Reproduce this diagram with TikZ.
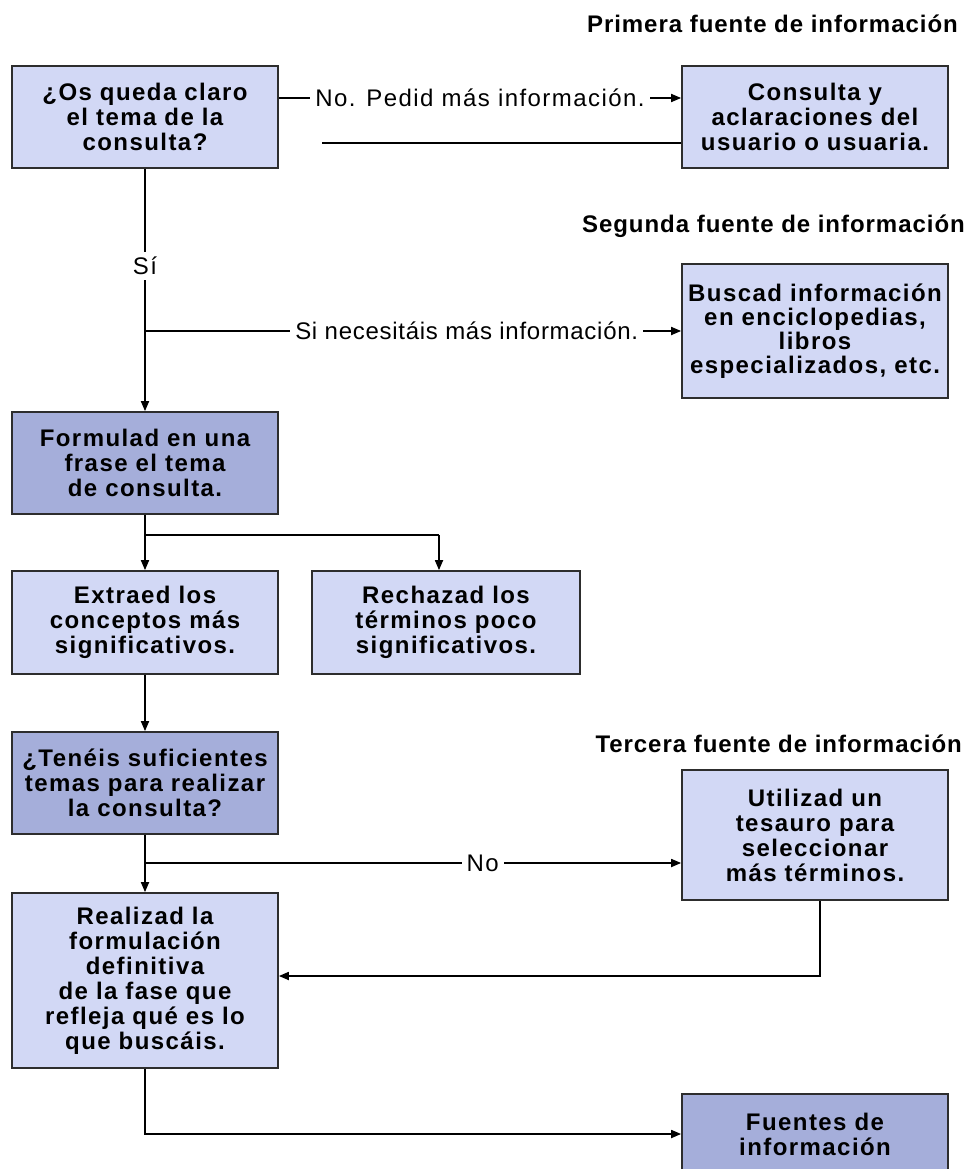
\documentclass[tikz,border=0pt]{standalone}
\usepackage{fontspec}
\setmainfont{Liberation Sans}[LetterSpace=6]
\usetikzlibrary{arrows.meta}
\definecolor{lightbox}{RGB}{210,216,245}
\definecolor{darkfill}{RGB}{165,174,218}
\definecolor{edge}{RGB}{45,45,45}
\lineskiplimit=-30pt
\lineskip=0pt
\newcommand{\boxfont}{\bfseries\fontsize{24}{25}\selectfont}
\newcommand{\busfont}{\bfseries\fontsize{24}{24}\selectfont}
\newcommand{\lblfont}{\fontsize{24}{25}\selectfont}
\newcommand{\titlefont}{\bfseries\fontsize{24}{25}\selectfont\addfontfeature{LetterSpace=4}}
\begin{document}
\begin{tikzpicture}[x=1pt,y=-1pt,
  box/.style={draw=edge, line width=1.7pt, fill=lightbox, align=center, font=\boxfont,
    inner sep=0pt, text width=264pt, minimum width=266pt, minimum height=102pt},
  boxdark/.style={box, fill=darkfill},
  lbl/.style={fill=white, inner sep=5pt, font=\lblfont},
  ln/.style={line width=1.7pt, draw=black},
  arr/.style={ln, -{Triangle[length=10pt,width=8pt]}},
  title/.style={font=\titlefont, anchor=base east, inner sep=0pt}]
\useasboundingbox (0,0) rectangle (972,1169);
\clip (0,0) rectangle (972,1169);

% titles
\node[title] (t1) at (958,33) {Primera fuente de información};
\node[title] (t2) at (965,232) {Segunda fuente de información};
\node[title] (t3) at (962,752) {Tercera fuente de información};

% boxes
\node[box] (q1) at (145,117) {¿Os queda claro\\el tema de la\\consulta?};
\node[box] (cons) at (815,117) {Consulta y\\aclaraciones del\\usuario o usuaria.};
\node[box, minimum height=134pt, font=\busfont] (busc) at (815,331) {Buscad información\\en enciclopedias,\\libros\\especializados, etc.};
\node[boxdark] (form) at (145,463) {Formulad en una\\frase el tema\\de consulta.};
\node[box, minimum height=103pt] (extr) at (145,622.5) {Extraed los\\conceptos más\\significativos.};
\node[box, minimum height=103pt, minimum width=268pt] (rech) at (446,622.5) {Rechazad los\\términos poco\\significativos.};
\node[boxdark] (ten) at (145,783) {¿Tenéis suficientes\\temas para realizar\\la consulta?};
\node[box, minimum height=130pt] (util) at (815,835) {Utilizad un\\tesauro para\\seleccionar\\más términos.};
\node[box, minimum height=175pt] (real) at (145,980.5) {Realizad la\\formulación\\definitiva\\de la fase que\\refleja qué es lo\\que buscáis.};
\node[boxdark, minimum height=80pt] (fuen) at (815,1134) {Fuentes de\\información};

% coordinates for branch points and free ends
\coordinate (ret) at (322,143);
\coordinate (b1) at (145,331);
\coordinate (b2) at (145,535);
\coordinate (b2r) at (439,535);
\coordinate (b3) at (145,863);

% connectors
\draw[arr] ([yshift=19pt]q1.east) -- node[lbl, pos=0.5] {No. Pedid más información.} ([yshift=19pt]cons.west);
\draw[ln] ([yshift=-26pt]cons.west) -- (ret);
\draw[arr] (q1.south) -- node[lbl, pos=0.4] {Sí} (form.north);
\draw[arr] (b1) -- node[lbl, pos=0.6, font=\lblfont\addfontfeature{LetterSpace=3}] {Si necesitáis más información.} (busc.west);
\draw[arr] (form.south) -- (extr.north);
\draw[ln] (b2) -- (b2r);
\draw[arr] (b2r) -- (b2r |- rech.north);
\draw[arr] (extr.south) -- (ten.north);
\draw[arr] (ten.south) -- (real.north);
\draw[arr] (b3) -- node[lbl, pos=0.63] {No} ([yshift=-28pt]util.west);
\draw[arr] ([xshift=5pt]util.south) |- ([yshift=4.5pt]real.east);
\draw[arr] (real.south) |- (fuen.west);
\end{tikzpicture}
\end{document}
